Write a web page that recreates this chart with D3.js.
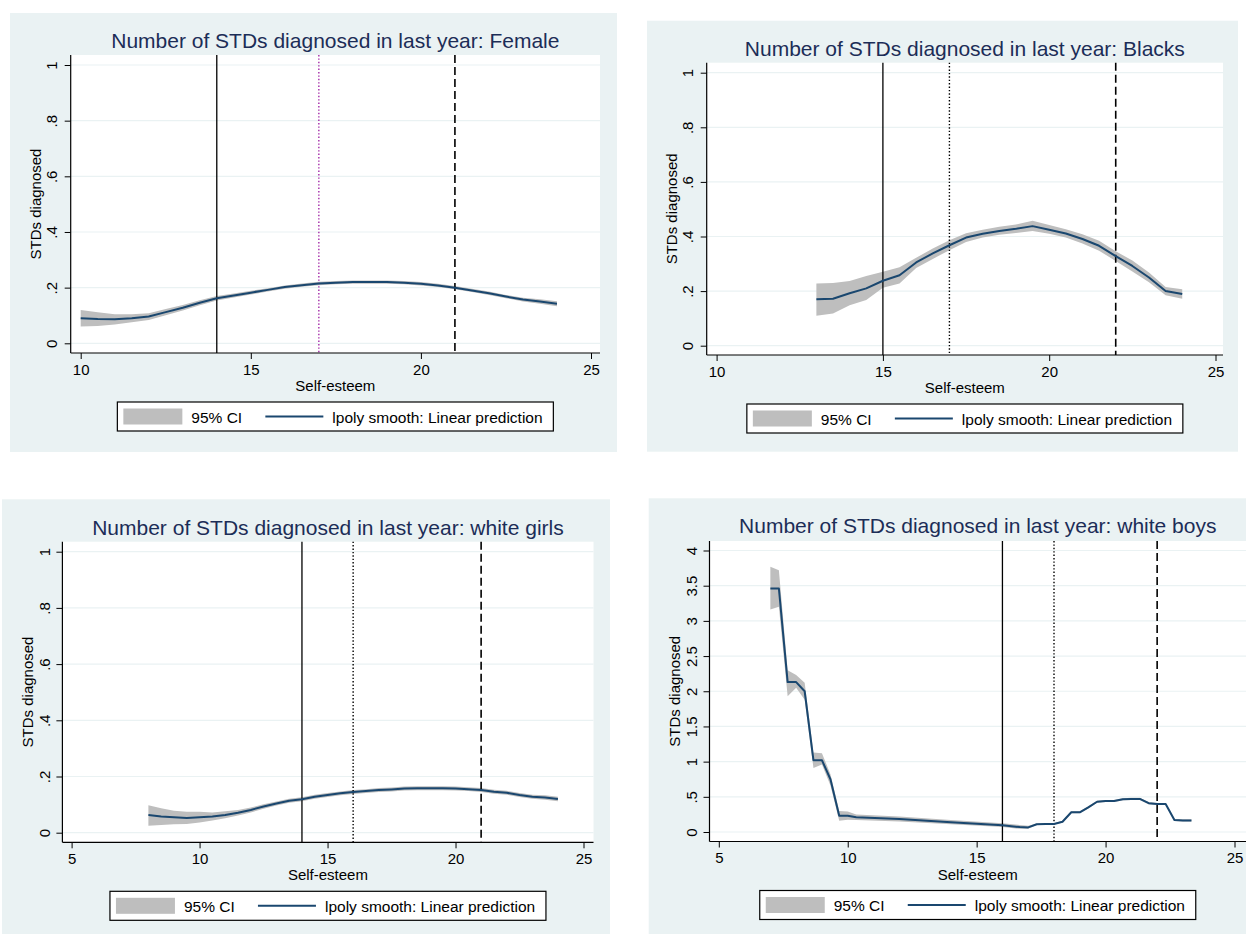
<!DOCTYPE html>
<html>
<head>
<meta charset="utf-8">
<script src="https://cdn.jsdelivr.net/npm/d3@7"></script>
<style>
  body { margin: 0; background: #fff; }
  text { font-family: "Liberation Sans", Arial, sans-serif; }
</style>
</head>
<body>
<div id="chart"></div>
<script>
// ---- data ----
const panelTitles = [
  "Number of STDs diagnosed in last year: Female",
  "Number of STDs diagnosed in last year: Blacks",
  "Number of STDs diagnosed in last year: white girls",
  "Number of STDs diagnosed in last year: white boys"
];

const femaleX = [10,10.5,11,11.5,12,12.5,13,13.5,14,14.5,15,15.5,16,16.5,17,17.5,18,18.5,19,19.5,20,20.5,21,21.5,22,22.5,23,23.5,24];
const femaleY = [.090,.087,.086,.090,.096,.112,.128,.146,.162,.172,.182,.192,.202,.209,.215,.218,.220,.220,.220,.218,.214,.208,.200,.190,.180,.168,.157,.150,.142];
const femaleLo = [.060,.062,.068,.076,.084,.101,.118,.137,.154,.165,.175,.186,.196,.203,.209,.212,.214,.214,.214,.212,.208,.202,.194,.184,.174,.162,.150,.142,.133];
const femaleHi = [.120,.112,.104,.104,.108,.123,.138,.155,.170,.179,.189,.198,.208,.215,.221,.224,.226,.226,.226,.224,.220,.214,.206,.196,.186,.174,.164,.158,.151];

const blacksX = [13,13.5,14,14.5,15,15.5,16,16.5,17,17.5,18,18.5,19,19.5,20,20.5,21,21.5,22,22.5,23,23.5,24];
const blacksY = [.170,.172,.192,.210,.238,.258,.305,.338,.368,.396,.410,.420,.428,.438,.425,.411,.391,.366,.328,.292,.250,.200,.189];
const blacksLo = [.110,.118,.148,.167,.212,.228,.285,.318,.350,.380,.396,.406,.413,.420,.410,.396,.374,.348,.310,.272,.232,.185,.172];
const blacksHi = [.228,.230,.237,.255,.271,.287,.322,.356,.386,.412,.425,.436,.444,.458,.442,.427,.408,.384,.346,.312,.268,.215,.207];

const girlsX = [8,8.5,9,9.5,10,10.5,11,11.5,12,12.5,13,13.5,14,14.5,15,15.5,16,16.5,17,17.5,18,18.5,19,19.5,20,20.5,21,21.5,22,22.5,23,23.5,24];
const girlsY = [.063,.058,.055,.052,.055,.058,.063,.071,.081,.093,.104,.114,.119,.128,.134,.140,.145,.148,.152,.154,.157,.158,.158,.158,.157,.155,.152,.146,.142,.134,.128,.125,.120];
const girlsLo = [.025,.027,.030,.031,.036,.043,.051,.061,.072,.085,.097,.107,.112,.121,.127,.133,.138,.141,.145,.147,.150,.151,.151,.151,.150,.148,.145,.139,.135,.127,.121,.117,.112];
const girlsHi = [.098,.087,.078,.075,.075,.072,.076,.081,.090,.101,.111,.121,.126,.135,.141,.147,.152,.155,.159,.161,.164,.165,.165,.165,.164,.162,.159,.153,.149,.141,.135,.133,.128];

const boysX = [7,7.33,7.67,8,8.33,8.67,9,9.33,9.67,10,10.33,12,14,16,16.67,17,17.33,17.67,18,18.33,18.67,19,19.33,19.67,20,20.33,20.67,21,21.33,21.67,22,22.33,22.67,23,23.33];
const boysY = [3.46,3.46,2.13,2.13,2.00,1.02,1.02,0.75,0.23,0.23,0.21,0.185,0.14,0.095,0.07,0.065,0.11,0.115,0.115,0.145,0.28,0.28,0.35,0.43,0.44,0.44,0.465,0.47,0.47,0.41,0.398,0.398,0.17,0.165,0.165];
const boysLo = [3.16,3.20,1.93,2.05,1.88,0.91,0.96,0.66,0.16,0.175,0.17,0.15,0.11,0.07,0.045,0.045,0.10,0.105,0.105,0.13,0.265,0.265,0.335,0.415,0.425,0.425,0.45,0.455,0.455,0.395,0.383,0.383,0.155,0.15,0.15];
const boysHi = [3.77,3.72,2.30,2.23,2.12,1.13,1.12,0.82,0.30,0.29,0.25,0.22,0.17,0.125,0.10,0.09,0.12,0.125,0.125,0.16,0.295,0.295,0.365,0.445,0.455,0.455,0.48,0.485,0.485,0.425,0.413,0.413,0.185,0.18,0.18];

// cut points: solid, dotted, dashed
const femaleCuts = [14, 17, 21];
const blacksCuts = [15, 17, 22];
const girlsCuts = [14, 16, 21];
const boysCuts = [16, 18, 22];

const xTicksFrom10 = [10, 15, 20, 25];
const xTicksFrom5 = [5, 10, 15, 20, 25];
const yTicksShare = [0, .2, .4, .6, .8, 1];
const yTicksBoys = [0, .5, 1, 1.5, 2, 2.5, 3, 3.5, 4];

const xLabel = "Self-esteem";
const yLabel = "STDs diagnosed";
const legendLabels = ["95% CI", "lpoly smooth: Linear prediction"];

// ---- layout ----
const W = 1246, H = 935;
const BG = "#eaf2f3", BAND = "#bebebe", LINE = "#1a476f", TITLE = "#1c2d57";

const svg = d3.select("#chart").append("svg")
  .attr("width", W).attr("height", H);

const panels = [
  { title: panelTitles[0], x: femaleX, y: femaleY, lo: femaleLo, hi: femaleHi, cuts: femaleCuts, dotColor: "#a32aa8",
    xDomain: [10, 25], xTicks: xTicksFrom10, yDomain: [0, 1], yTicks: yTicksShare,
    bg: [10, 13, 617, 452], plot: [70.7, 55, 600, 353], xRange: [80.7, 591], yRange: [343.3, 65],
    titleY: 47.5, yLabX: 51.7, yTitleX: 35 },
  { title: panelTitles[1], x: blacksX, y: blacksY, lo: blacksLo, hi: blacksHi, cuts: blacksCuts, dotColor: "#000",
    xDomain: [10, 25], xTicks: xTicksFrom10, yDomain: [0, 1], yTicks: yTicksShare,
    bg: [647, 20.7, 1238, 451.7], plot: [706.7, 62.7, 1223, 355], xRange: [716.6, 1215.5], yRange: [345.7, 72.7],
    titleY: 55.5, yLabX: 687.6, yTitleX: 671.7 },
  { title: panelTitles[2], x: girlsX, y: girlsY, lo: girlsLo, hi: girlsHi, cuts: girlsCuts, dotColor: "#000",
    xDomain: [5, 25], xTicks: xTicksFrom5, yDomain: [0, 1], yTicks: yTicksShare,
    bg: [2, 499.3, 610, 934], plot: [62.4, 541.7, 593.5, 842.3], xRange: [71.6, 583.5], yRange: [832.7, 551.7],
    titleY: 535, yLabX: 44.5, yTitleX: 27 },
  { title: panelTitles[3], x: boysX, y: boysY, lo: boysLo, hi: boysHi, cuts: boysCuts, dotColor: "#000",
    xDomain: [5, 25], xTicks: xTicksFrom5, yDomain: [0, 4], yTicks: yTicksBoys,
    bg: [648.7, 498.3, 1246, 934], plot: [709.5, 541, 1246, 841.5], xRange: [718.8, 1234.5], yRange: [832, 550.5],
    titleY: 533, yLabX: 691.6, yTitleX: 674.5 }
];

// Stata style number labels: .2 instead of 0.2
const fmt = v => String(v).replace(/^0\./, ".");

panels.forEach(p => drawPanel(p));

function drawPanel(p) {
  const g = svg.append("g");
  const [bx0, by0, bx1, by1] = p.bg;
  const [px0, py0, px1, py1] = p.plot;

  g.append("rect").attr("x", bx0).attr("y", by0)
    .attr("width", bx1 - bx0).attr("height", by1 - by0).attr("fill", BG);
  g.append("rect").attr("x", px0).attr("y", py0)
    .attr("width", px1 - px0).attr("height", py1 - py0).attr("fill", "#fff");

  const x = d3.scaleLinear().domain(p.xDomain).range(p.xRange);
  const y = d3.scaleLinear().domain(p.yDomain).range(p.yRange);

  // grid lines
  g.selectAll(".grid").data(p.yTicks).join("line")
    .attr("x1", px0).attr("x2", px1)
    .attr("y1", d => y(d)).attr("y2", d => y(d))
    .attr("stroke", BG).attr("stroke-width", 1.2);

  // CI band and smooth line
  const pts = p.x.map((v, i) => ({ x: v, y: p.y[i], lo: p.lo[i], hi: p.hi[i] }));
  g.append("path").datum(pts)
    .attr("fill", BAND)
    .attr("d", d3.area().x(d => x(d.x)).y0(d => y(d.lo)).y1(d => y(d.hi)));

  // reference lines
  const styles = [
    { dash: null, color: "#000", w: 1.3 },
    { dash: "1.4,2", color: p.dotColor, w: 1.4 },
    { dash: "8,4", color: "#000", w: 1.6 }
  ];
  p.cuts.forEach((c, i) => {
    g.append("line")
      .attr("x1", x(c)).attr("x2", x(c)).attr("y1", py0).attr("y2", py1)
      .attr("stroke", styles[i].color).attr("stroke-width", styles[i].w)
      .attr("stroke-dasharray", styles[i].dash);
  });

  g.append("path").datum(pts)
    .attr("fill", "none").attr("stroke", LINE).attr("stroke-width", 2)
    .attr("stroke-linejoin", "round")
    .attr("d", d3.line().x(d => x(d.x)).y(d => y(d.y)));

  // x axis
  const xAxis = g.append("g").attr("transform", `translate(0,${py1})`)
    .call(d3.axisBottom(x).tickValues(p.xTicks).tickSize(6).tickPadding(5).tickFormat(fmt));
  xAxis.select(".domain").remove();
  xAxis.append("line").attr("x1", px0).attr("x2", px1).attr("stroke", "#000").attr("stroke-width", 1.2);
  xAxis.selectAll(".tick line").attr("stroke", "#000");
  xAxis.selectAll(".tick text").attr("font-size", 15).attr("fill", "#000");

  // y axis
  const yAxis = g.append("g").attr("transform", `translate(${px0},0)`)
    .call(d3.axisLeft(y).tickValues(p.yTicks).tickSize(6).tickFormat(fmt));
  yAxis.select(".domain").remove();
  yAxis.append("line").attr("y1", py0).attr("y2", py1).attr("stroke", "#000").attr("stroke-width", 1.2);
  yAxis.selectAll(".tick line").attr("stroke", "#000");
  yAxis.selectAll(".tick text")
    .attr("font-size", 15).attr("fill", "#000")
    .attr("x", null).attr("dy", null)
    .attr("text-anchor", "middle").attr("dominant-baseline", "central")
    .attr("transform", `translate(${p.yLabX - px0},0) rotate(-90)`);

  // titles
  const cx = (px0 + px1) / 2;
  g.append("text").attr("x", cx).attr("y", p.titleY)
    .attr("text-anchor", "middle").attr("font-size", 21).attr("fill", TITLE)
    .text(p.title);
  g.append("text").attr("x", cx).attr("y", py1 + 38)
    .attr("text-anchor", "middle").attr("font-size", 15).attr("fill", "#000")
    .text(xLabel);
  g.append("text")
    .attr("transform", `translate(${p.yTitleX},${(py0 + py1) / 2}) rotate(-90)`)
    .attr("text-anchor", "middle").attr("dominant-baseline", "central")
    .attr("font-size", 15).attr("fill", "#000")
    .text(yLabel);

  // legend
  const lw = 436, lh = 29, lx = cx - lw / 2, ly = py1 + 49;
  const lg = g.append("g").attr("transform", `translate(${lx},${ly})`);
  lg.append("rect").attr("width", lw).attr("height", lh)
    .attr("fill", "#fff").attr("stroke", "#000").attr("stroke-width", 1.2);
  lg.append("rect").attr("x", 6).attr("y", 6.5).attr("width", 59).attr("height", 16).attr("fill", BAND);
  lg.append("text").attr("x", 74).attr("y", 20.5).attr("font-size", 15.5).text(legendLabels[0]);
  lg.append("line").attr("x1", 148).attr("x2", 206).attr("y1", 14.5).attr("y2", 14.5)
    .attr("stroke", LINE).attr("stroke-width", 2);
  lg.append("text").attr("x", 215).attr("y", 20.5).attr("font-size", 15.5).text(legendLabels[1]);
}
</script>
</body>
</html>
